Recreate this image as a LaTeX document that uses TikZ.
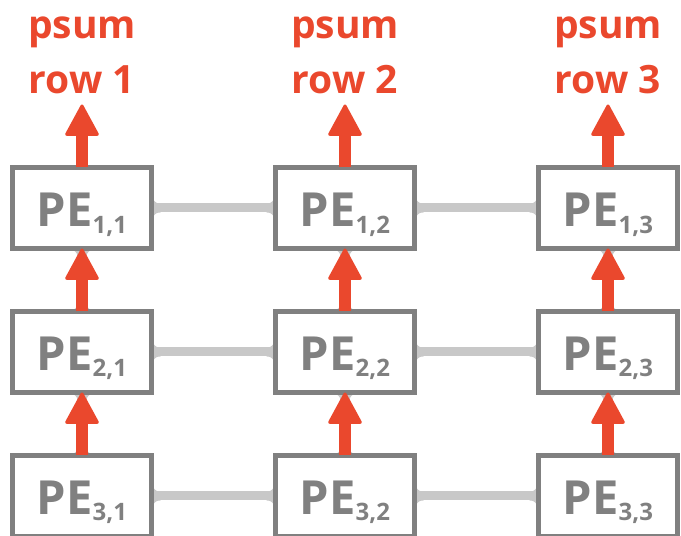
\documentclass[tikz,border=0pt]{standalone}
\usepackage{fontspec}
\setsansfont{Open Sans}
\usetikzlibrary{matrix,positioning,arrows.meta,backgrounds}

\definecolor{psumred}{RGB}{234,72,45}
\definecolor{pegray}{RGB}{128,128,128}
\definecolor{wiregray}{RGB}{200,200,200}

% PE label with its row,column index
\newcommand{\pe}[2]{PE\raisebox{-6pt}{\fontsize{24}{24}\selectfont #1,#2}}

\tikzset{
pemat/.style={
  matrix of nodes,
  inner sep=0pt,
  outer sep=0pt,
  column sep=119pt,
  row sep=58pt,
  nodes={rectangle, draw=pegray, line width=5pt, fill=white,
    minimum width=139pt, minimum height=81pt, inner sep=0pt,
    text height=38pt, text depth=0pt, text=pegray,
    font=\sffamily\bfseries\fontsize{47}{47}\selectfont}
  },
psum/.style={draw=psumred, line width=12pt,
  -{Triangle[width=35pt,length=33pt,line width=3pt,round]}},
wire/.style={draw=wiregray, line width=9pt},
psumlabel/.style={text=psumred, inner sep=0pt, align=center,
  font=\sffamily\bfseries\fontsize{39}{55}\selectfont},
nub/.pic={
  \fill[wiregray] (-1pt,-13pt) .. controls (3pt,-6pt) and (4pt,-4.5pt) .. (9pt,-4.5pt)
    -- (9pt,4.5pt) .. controls (4pt,4.5pt) and (3pt,6pt) .. (-1pt,13pt) -- cycle;
  }
}

\begin{document}
\begin{tikzpicture}
\useasboundingbox (0,0) rectangle (681pt,536pt);

\matrix[pemat, anchor=north west] at (10pt,371pt)
(pe)
{
  \pe{1}{1} & \pe{1}{2} & \pe{1}{3} \\
  \pe{2}{1} & \pe{2}{2} & \pe{2}{3} \\
  \pe{3}{1} & \pe{3}{2} & \pe{3}{3} \\
};

% links between neighbours in a row
\begin{scope}[on background layer]
\foreach \r in {1,2,3}{
  \foreach \c/\n in {1/2,2/3}{
    \draw[wire] (pe-\r-\c.east) -- (pe-\r-\n.west);
    \pic[rotate=0] at (pe-\r-\c.east) {nub};
    \pic[rotate=180] at (pe-\r-\n.west) {nub};
  }
}
\foreach \c in {1,2,3}{
  \foreach \r/\u in {3/2,2/1}{
    \pic[rotate=90] at (pe-\r-\c.north) {nub};
    \pic[rotate=-90] at (pe-\u-\c.south) {nub};
  }
}
\end{scope}

% partial sums flow up each column
\foreach \c in {1,2,3}{
  \foreach \r/\u in {3/2,2/1}{
    \draw[psum] (pe-\r-\c.north) -- (pe-\u-\c.south);
  }
  \coordinate (out-\c) at ([yshift=63pt]pe-1-\c.north);
  \draw[psum] (pe-1-\c.north) -- (out-\c);
  \node[psumlabel, above=10pt of out-\c] (psum-\c) {psum\\row \c};
}
\end{tikzpicture}
\end{document}
